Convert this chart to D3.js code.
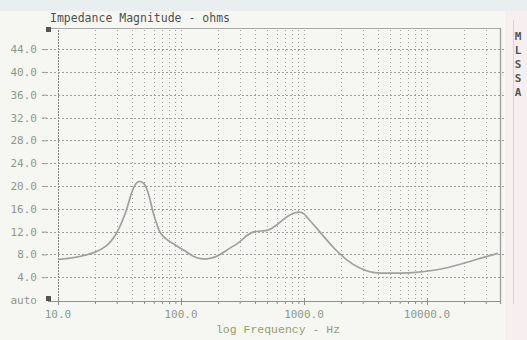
<!DOCTYPE html>
<html><head><meta charset="utf-8">
<script src="https://cdn.jsdelivr.net/npm/d3@7"></script>
<style>
html,body{margin:0;padding:0;background:#f6f7f3;}
svg{display:block;}
</style></head>
<body>
<svg id="chart" width="527" height="340"></svg>
<script>
// ---- data ----
const freqHz = [10, 20, 30, 36, 40, 43, 46, 50, 54, 60, 67.5, 74, 86, 104, 135, 151, 175, 196, 250, 300, 344, 385, 450, 500, 603, 727, 845, 920, 1000, 1080, 1350, 1720, 2240, 2850, 3920, 5010, 7700, 12060, 19600, 27000, 37800];
const impedanceOhms = [7.1, 8.4, 11.8, 15.8, 19.0, 20.4, 20.8, 20.4, 18.8, 15.0, 11.9, 10.9, 9.9, 8.8, 7.4, 7.2, 7.35, 7.7, 9.1, 10.2, 11.3, 11.9, 12.1, 12.2, 13.2, 14.6, 15.3, 15.4, 15.1, 14.3, 11.9, 9.3, 7.0, 5.6, 4.75, 4.7, 4.8, 5.3, 6.4, 7.3, 8.2];
const yTickValues = [0, 4, 8, 12, 16, 20, 24, 28, 32, 36, 40, 44];
const yTickLabels = ["auto", "4.0", "8.0", "12.0", "16.0", "20.0", "24.0", "28.0", "32.0", "36.0", "40.0", "44.0"];
const xTickValues = [10, 100, 1000, 10000];
const xTickLabels = ["10.0", "100.0", "1000.0", "10000.0"];
const titleText = "Impedance Magnitude - ohms";
const xAxisTitle = "log Frequency - Hz";
const sideLetters = ["M", "L", "S", "S", "A"];

// ---- layout ----
const svg = d3.select("#chart");
const mono = "'DejaVu Sans Mono', 'Liberation Mono', monospace";
const plotTop = 28, plotBottom = 301, plotLeft = 48, plotRight = 500;

const x = d3.scaleLog().domain([10, 10000]).range([58, 427]);
const y = d3.scaleLinear().domain([0, 47.7]).range([300, plotTop]);
const xMax = x.invert(plotRight);

// background strips (scan tint)
svg.append("rect").attr("x",0).attr("y",0).attr("width",527).attr("height",340).attr("fill","#f6f7f3");
svg.append("rect").attr("x",0).attr("y",0).attr("width",527).attr("height",11).attr("fill","#e9eef0");
svg.append("rect").attr("x",505).attr("y",11).attr("width",22).attr("height",329).attr("fill","#f7eef0");

// vertical grid (minor + decade)
const vGrid = [];
for (let dec = 10; dec <= 10000; dec *= 10) {
  for (let m = 1; m <= 9; m++) {
    const f = dec * m;
    if (f >= 10 && f <= xMax) vGrid.push(f);
  }
}
svg.append("g").selectAll("line").data(vGrid).join("line")
  .attr("x1", d => Math.round(x(d)) + 0.5).attr("x2", d => Math.round(x(d)) + 0.5)
  .attr("y1", plotTop + 2).attr("y2", plotBottom)
  .attr("stroke", d => d === 10 ? "#808080" : "#a2a2a2")
  .attr("stroke-width", 1)
  .attr("stroke-dasharray", d => d === 10 ? "2,1" : "1,3");

// horizontal grid
svg.append("g").selectAll("line").data(yTickValues.filter(v => v > 0)).join("line")
  .attr("x1", 42).attr("x2", 506)
  .attr("y1", d => Math.round(y(d)) + 0.5).attr("y2", d => Math.round(y(d)) + 0.5)
  .attr("stroke", "#9e9e9e").attr("stroke-dasharray", "2,2");

// frame
svg.append("line").attr("x1", plotLeft).attr("x2", plotRight).attr("y1", plotTop + 0.5).attr("y2", plotTop + 0.5).attr("stroke", "#a8aaa8");
svg.append("line").attr("x1", plotRight + 0.5).attr("x2", plotRight + 0.5).attr("y1", plotTop).attr("y2", plotBottom + 3).attr("stroke", "#9a9c98").attr("stroke-width", 1.3);
svg.append("line").attr("x1", 513.5).attr("x2", 513.5).attr("y1", 20).attr("y2", plotBottom + 3).attr("stroke", "#e2d2d6");

// x axis with ticks
const xAxis = d3.axisBottom(x).tickValues(vGrid).tickSize(3).tickFormat("");
const gx = svg.append("g").attr("transform", `translate(0,${plotBottom})`).call(xAxis);
gx.select(".domain").attr("stroke", "#8e908c").attr("d", `M${plotLeft},0.5H${plotRight}`);
gx.selectAll(".tick line").attr("stroke", "#8e908c")
  .attr("y1", d => xTickValues.includes(d) ? -3 : 0)
  .attr("y2", d => xTickValues.includes(d) ? 4 : 3);

svg.append("g").selectAll("text").data(xTickValues).join("text")
  .attr("x", d => x(d)).attr("y", 318)
  .attr("text-anchor", "middle")
  .attr("font-family", mono).attr("font-size", 11)
  .attr("fill", "#8e9a88")
  .text((d, i) => xTickLabels[i]);

// y axis labels + tick dashes
const yAxis = d3.axisLeft(y).tickValues(yTickValues).tickSize(4).tickFormat((d, i) => yTickLabels[i]);
const gy = svg.append("g").attr("transform", "translate(45,0)").call(yAxis);
gy.select(".domain").remove();
gy.selectAll(".tick line").attr("stroke", "#9aa096").attr("x1", -3).attr("x2", 2)
  .style("display", d => d === 0 ? "none" : null);
gy.selectAll(".tick text")
  .attr("x", -8)
  .attr("font-family", mono).attr("font-size", 11)
  .attr("fill", "#8e9a88");

// marker squares
svg.append("rect").attr("x", 46).attr("y", 27).attr("width", 5).attr("height", 5).attr("fill", "#555");
svg.append("rect").attr("x", 46).attr("y", 296).attr("width", 5).attr("height", 5).attr("fill", "#555");

// curve
const line = d3.line().x((d, i) => x(freqHz[i])).y(d => y(d)).curve(d3.curveMonotoneX);
svg.append("path").attr("d", line(impedanceOhms))
  .attr("fill", "none").attr("stroke", "#a0a0a0").attr("stroke-width", 1.7);

// title
svg.append("text").attr("x", 50).attr("y", 22)
  .attr("font-family", mono).attr("font-size", 11.5)
  .attr("fill", "#505050").text(titleText);

// x axis title
svg.append("text").attr("x", 278).attr("y", 333)
  .attr("text-anchor", "middle")
  .attr("font-family", "'Liberation Mono', monospace").attr("font-size", 11.5)
  .attr("fill", "#9a9a70").text(xAxisTitle);

// side letters
svg.append("g").selectAll("text").data(sideLetters).join("text")
  .attr("x", 518).attr("y", (d, i) => 40 + i * 14)
  .attr("text-anchor", "middle")
  .attr("font-family", mono).attr("font-size", 11).attr("font-weight", "bold")
  .attr("fill", "#555").text(d => d);
</script>
</body></html>
